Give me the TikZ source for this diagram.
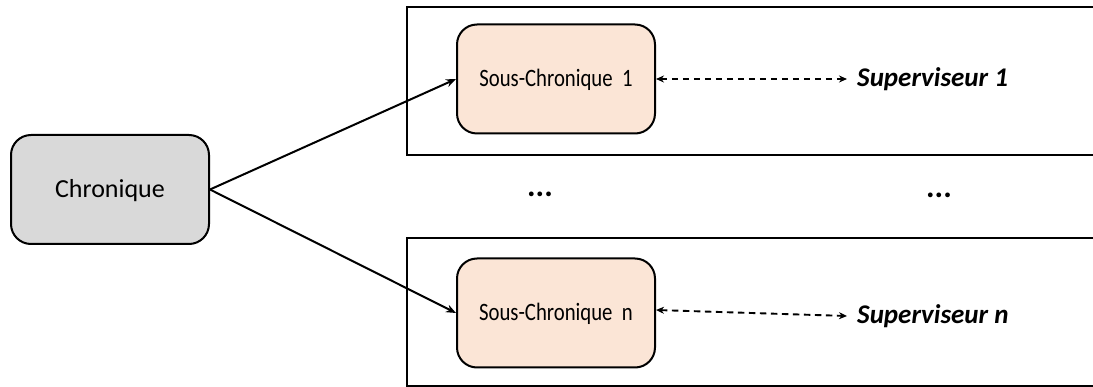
\documentclass[tikz,border=0pt]{standalone}
\usepackage{fontspec}
\setmainfont{Carlito}
\usetikzlibrary{arrows.meta}
\definecolor{greyfill}{HTML}{D9D9D9}
\definecolor{peach}{HTML}{FBE5D6}
\tikzset{
  box/.style={draw=black, line width=2pt, rounded corners=20pt, minimum width=198pt, minimum height=109pt, inner sep=0pt, text height=16pt, text depth=0pt},
  bigbox/.style={draw=black, line width=2.2pt},
  link/.style={line width=2pt, -{Stealth[length=10pt,width=8pt]}},
  duplex/.style={line width=1.9pt, dash pattern=on 6.5pt off 4.5pt, {Stealth[length=8pt,width=7pt]}-{Stealth[length=8pt,width=7pt]}},
  suptext/.style={font=\fontsize{27}{30}\selectfont\bfseries\itshape, anchor=west, inner sep=0pt, text height=16pt, text depth=0pt},
  dotstext/.style={font=\fontsize{32}{34}\selectfont\bfseries, inner sep=0pt}
}
\begin{document}
\begin{tikzpicture}[x=1pt,y=-1pt]
\useasboundingbox (0,0) rectangle (1093,387);
\clip (0,0) rectangle (1093,387);
% outer frames
\draw[bigbox] (1110,7) -- (407,7) -- (407,155) -- (1110,155);
\draw[bigbox] (1110,238) -- (407,238) -- (407,386) -- (1110,386);
% nodes
\node[box, fill=greyfill, font=\fontsize{26}{30}\selectfont] (chron) at (110,189.5) {Chronique};
\node[box, fill=peach] (s1) at (556,79) {\fontsize{25}{30}\selectfont\scalebox{0.83}[1]{Sous-Chronique\ \ 1}};
\node[box, fill=peach] (sn) at (556,313) {\fontsize{25}{30}\selectfont\scalebox{0.83}[1]{Sous-Chronique\ \ n}};
\node[suptext] (sup1) at (857,79) {Superviseur 1};
\node[suptext] (supn) at (857,316) {Superviseur n};
\node[dotstext] (dots1) at (540,194) {...};
\node[dotstext] (dots2) at (939,195) {...};
% connectors
\draw[link] (chron.east) -- (s1.west);
\draw[link] (chron.east) -- (sn.west);
\coordinate (e1) at ([xshift=-10pt]sup1.west);
\coordinate (en) at ([xshift=-10pt]supn.west);
\draw[duplex] (s1.east) -- (e1);
\draw[duplex] ([yshift=3pt]sn.east) -- (en);
\end{tikzpicture}
\end{document}
